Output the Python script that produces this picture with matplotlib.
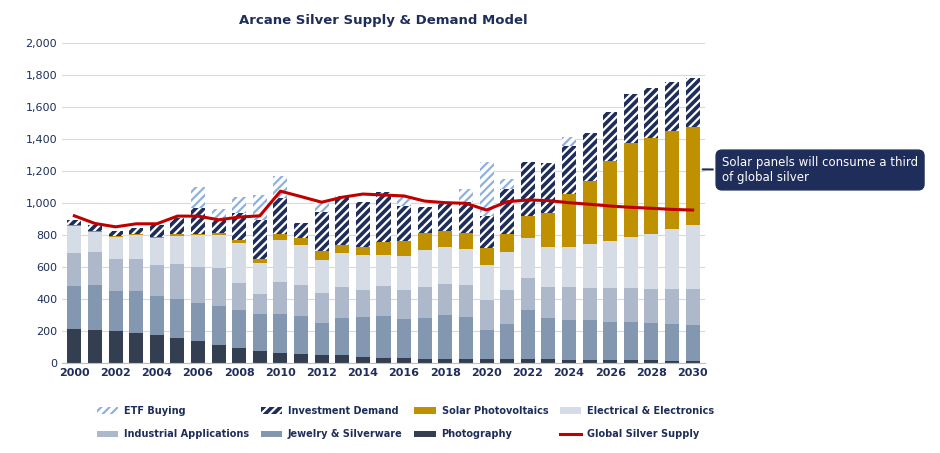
import matplotlib
matplotlib.use("Agg")
import matplotlib.pyplot as plt
import numpy as np

years = list(range(2000, 2031))
photography = [213,209,199,189,174,158,137,114,95,73,64,58,52,48,37,33,29,27,27,27,23,23,23,23,19,19,19,19,19,15,15]
jewelry = [268,280,253,263,245,240,238,242,237,232,243,236,197,234,249,261,244,256,273,261,183,223,308,258,252,248,239,235,231,227,223]
industrial = [209,205,197,201,192,218,224,237,170,124,197,195,186,193,170,187,183,190,194,200,188,210,198,196,202,202,209,213,215,223,225]
electrical = [164,125,139,145,170,180,199,205,248,199,267,247,208,213,220,194,213,233,233,225,218,238,250,250,254,275,296,318,343,370,402]
solar = [6,6,6,6,7,10,8,14,19,25,33,43,57,52,47,79,96,104,96,100,105,112,142,210,331,391,497,592,600,617,610]
investment = [31,37,33,37,74,100,164,79,170,238,228,96,243,303,286,317,216,163,171,191,202,281,337,315,300,300,309,304,311,304,306]
etf = [0,0,0,0,0,0,128,71,101,156,137,0,56,0,0,0,54,0,0,81,335,61,0,0,52,0,0,0,0,0,0]
supply = [920,872,851,870,870,918,918,895,912,920,1074,1040,1005,1036,1056,1050,1044,1012,1002,998,956,1008,1019,1015,1002,992,981,973,967,960,956]

navy = "#1f2d5a"
plt.rcParams['hatch.linewidth'] = 1.6
fig = plt.figure(figsize=(9.4, 4.53), dpi=100)
ax = fig.add_axes([62/940, 90/453, 643/940, 320/453])
x = np.array(years)
w = 0.68
bottom = np.zeros(len(years))
series = [
    ("Photography", photography, dict(color="#333f50")),
    ("Jewelry & Silverware", jewelry, dict(color="#8497b0")),
    ("Industrial Applications", industrial, dict(color="#adb9ca")),
    ("Electrical & Electronics", electrical, dict(color="#d6dce6")),
    ("Solar Photovoltaics", solar, dict(color="#bf9000")),
    ("Investment Demand", investment, dict(facecolor=navy, edgecolor="white", hatch="////", linewidth=0)),
    ("ETF Buying", etf, dict(facecolor="white", edgecolor="#8fb1e0", hatch="////", linewidth=0)),
]
handles = {}
for name, vals, kw in series:
    v = np.array(vals)
    b = ax.bar(x, v, w, bottom=bottom, label=name, **kw)
    handles[name] = b
    bottom += v
ln, = ax.plot(x, supply, color="#c00000", lw=2.2, label="Global Silver Supply")
handles["Global Silver Supply"] = ln

ax.set_ylim(0, 2000)
ax.set_yticks(range(0, 2001, 200))
ax.set_yticklabels([f"{v:,}" for v in range(0, 2001, 200)])
ax.set_xlim(1999.4, 2030.6)
ax.set_xticks(range(2000, 2031, 2))
ax.grid(axis='y', color="#d9d9d9", lw=0.8)
ax.set_axisbelow(True)
for s in ["top", "right", "left"]:
    ax.spines[s].set_visible(False)
ax.spines["bottom"].set_color("#bfbfbf")
ax.tick_params(axis='both', length=0, labelsize=8, colors=navy)
for t in ax.get_xticklabels():
    t.set_fontweight("bold")
ax.set_title("Arcane Silver Supply & Demand Model", fontsize=9.5, fontweight="bold", color=navy, pad=14)

order = ["ETF Buying", "Industrial Applications", "Investment Demand", "Jewelry & Silverware",
         "Solar Photovoltaics", "Photography", "Electrical & Electronics", "Global Silver Supply"]
leg = fig.legend([handles[o] for o in order], order, ncol=4, loc="upper left",
                 bbox_to_anchor=(88/940, 1-397/453), frameon=False, columnspacing=1.2,
                 handlelength=2.2, handletextpad=0.6, prop=dict(size=7, weight="bold"), labelspacing=1.4)
for t in leg.get_texts():
    t.set_color(navy)

ax.annotate("Solar panels will consume a third\nof global silver", xy=(2030.35, 1210),
            xytext=(722/940, 1-170/453), textcoords="figure fraction", ha="left", va="center",
            fontsize=8.5, color="white",
            bbox=dict(boxstyle="round,pad=0.5", fc=navy, ec=navy),
            arrowprops=dict(arrowstyle="-", color=navy, lw=1.5), annotation_clip=False)
fig.savefig("out.png", dpi=100)
